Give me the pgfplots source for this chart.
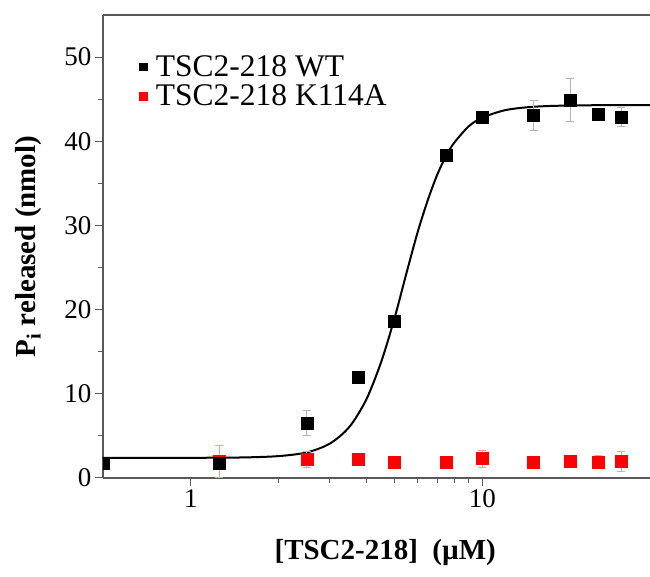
\documentclass[border=0pt]{standalone}
\usepackage{pgfplots}
\pgfplotsset{compat=1.18}
\usepackage{fontspec}
\setmainfont{Liberation Serif}
\pgfplotstableread{
x y e
0.5 1.8 0
1.25 1.8 0.3
2.5 6.5 1.5
3.75 12.0 0.4
5 18.6 0.4
7.5 38.4 0.4
10 42.8 0.4
15 43.1 1.8
20 44.9 2.6
25 43.2 0.7
30 42.9 1.1
}\wt
\pgfplotstableread{
x y e
1.25 2.0 1.9
2.5 2.2 1.0
3.75 2.2 0.4
5 1.9 0.4
7.5 1.9 0.6
10 2.3 1.0
15 1.9 0.3
20 2.0 0.3
25 1.9 0.8
30 2.0 1.2
}\mut
\pgfplotstableread{
x y
0.5 2.4
1.0 2.4
1.5 2.44
2.0 2.60
2.5 3.04
3.0 4.09
3.5 6.07
4.0 9.33
4.5 13.8
5.0 19.0
5.5 24.4
6.0 29.2
6.5 33.0
7.0 36.0
7.5 38.2
8.0 39.8
9.0 41.8
10 42.8
12 43.7
15 44.1
20 44.25
30 44.3
37.6 44.3
}\fit
\begin{document}
\begin{tikzpicture}
\begin{axis}[
  scale only axis, width=547pt, height=463pt,
  xmode=log, xmin=0.5, xmax=37.6, ymin=0, ymax=55,
  axis x line*=box, axis y line*=left,
  axis line style={gray!70!black, line width=1.3pt},
  xtick={1,10}, xticklabels={1,10},
  ytick={0,10,20,30,40,50}, minor y tick num=1,
  xtick pos=bottom, ytick pos=left,
  tick align=outside,
  major tick length=8pt, minor tick length=5pt,
  every tick/.style={gray!70!black, line width=1pt},
  /pgf/number format/assume math mode=true,
  tick label style={font=\fontsize{27}{30}\selectfont},
  clip marker paths=true,
  xlabel={\bfseries [TSC2-218]\ \ (\textmu M)},
  ylabel={\bfseries P\textsubscript{i} released (nmol)},
  every axis x label/.style={at={(axis description cs:0.516,-0.16)}, anchor=center, font=\fontsize{29}{31}\selectfont},
  every axis y label/.style={at={(axis description cs:-0.137,0.50)}, anchor=center, rotate=90, font=\fontsize{29}{31}\selectfont},
  legend style={draw=none, fill=none, at={(axis description cs:0.066,0.915)}, anchor=north west, font=\fontsize{31.5}{33}\selectfont, inner sep=0pt, row sep=5pt, nodes={inner xsep=2pt, inner ysep=1pt},
    /tikz/every odd column/.append style={column sep=7pt}},
  legend cell align=left,
  legend image code/.code={\draw[#1,mark size=3.8pt] plot coordinates {(0pt,0pt)};},
  error bars/y dir=both, error bars/y explicit,
]
\addlegendimage{only marks, mark=square*, black}
\addlegendentry{TSC2-218 WT}
\addlegendimage{only marks, mark=square*, red}
\addlegendentry{TSC2-218 K114A}
\addplot[black, line width=2pt, smooth, forget plot] table[x=x,y=y] {\fit};
\addplot[only marks, mark=square*, mark size=6pt, red, forget plot,
  error bars/error bar style={red!40, line width=1pt},
  error bars/error mark options={rotate=90, mark size=4pt, red!40, line width=1pt}]
  table[x=x, y=y, y error=e] {\mut};
\addplot[only marks, mark=square*, mark size=6pt, black, forget plot,
  error bars/error bar style={gray!60, line width=1pt},
  error bars/error mark options={rotate=90, mark size=4pt, gray!60, line width=1pt}]
  table[x=x, y=y, y error=e] {\wt};
\coordinate (bl) at (rel axis cs:0,0);
\coordinate (tr) at (rel axis cs:1,1);
\end{axis}
\pgfresetboundingbox
\path[use as bounding box] ([xshift=-103pt,yshift=-99pt]bl) rectangle ([yshift=15pt]tr);
\end{tikzpicture}
\end{document}
